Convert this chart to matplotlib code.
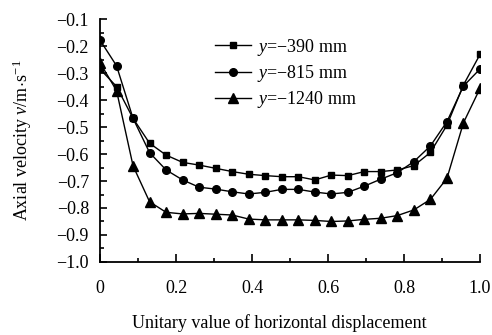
import numpy as np
import matplotlib
matplotlib.use('Agg')
import matplotlib.pyplot as plt
from matplotlib.ticker import MultipleLocator

plt.rcParams['font.family'] = ['Liberation Serif', 'DejaVu Serif']
plt.rcParams['mathtext.fontset'] = 'custom'
plt.rcParams['mathtext.rm'] = 'Liberation Serif'
plt.rcParams['mathtext.it'] = 'Liberation Serif:italic'
plt.rcParams['axes.unicode_minus'] = True

# 24 measuring points across the width
x = np.arange(24) / 23

v_390 = [-0.285, -0.35, -0.468, -0.56, -0.604, -0.631, -0.641, -0.653, -0.665, -0.675,
         -0.68, -0.684, -0.684, -0.696, -0.678, -0.68, -0.665, -0.665, -0.659, -0.643,
         -0.594, -0.493, -0.344, -0.231]
v_815 = [-0.178, -0.273, -0.468, -0.595, -0.659, -0.696, -0.723, -0.73, -0.74, -0.748,
         -0.742, -0.731, -0.731, -0.741, -0.748, -0.742, -0.719, -0.693, -0.669, -0.628,
         -0.57, -0.48, -0.348, -0.285]
v_1240 = [-0.262, -0.365, -0.644, -0.777, -0.816, -0.822, -0.82, -0.823, -0.826, -0.841,
          -0.844, -0.844, -0.844, -0.846, -0.85, -0.848, -0.842, -0.838, -0.828, -0.807,
          -0.768, -0.69, -0.484, -0.357]

labels = ['$y$=\u2212390 mm', '$y$=\u2212815 mm', '$y$=\u22121240 mm']
xticks = [0, 0.2, 0.4, 0.6, 0.8, 1.0]
xticklabels = ['0', '0.2', '0.4', '0.6', '0.8', '1.0']
yticks = [-1.0, -0.9, -0.8, -0.7, -0.6, -0.5, -0.4, -0.3, -0.2, -0.1]

fig = plt.figure(figsize=(4.92, 3.35), dpi=100)
ax = fig.add_axes([0.2033, 0.218, 0.7723, 0.725])

ax.plot(x, v_390, color='black', lw=1, marker='s', ms=5, label=labels[0])
ax.plot(x, v_815, color='black', lw=1, marker='o', ms=5.5, label=labels[1])
ax.plot(x, v_1240, color='black', lw=1, marker='^', ms=6.5, label=labels[2])

ax.set_xlim(0, 1.0)
ax.set_ylim(-1.0, -0.1)
ax.xaxis.set_minor_locator(MultipleLocator(0.1))
ax.yaxis.set_minor_locator(MultipleLocator(0.05))
ax.set_xticks(xticks)
ax.set_xticklabels(xticklabels)
ax.set_yticks(yticks)
ax.set_yticklabels(['\u2212%.1f' % abs(t) for t in yticks])

for s in ['top', 'right']:
    ax.spines[s].set_visible(False)
for s in ['left', 'bottom']:
    ax.spines[s].set_linewidth(1.3)

ax.tick_params(axis='x', which='major', direction='in', length=5.5, width=1.2, pad=13, labelsize=13)
ax.tick_params(axis='y', which='major', direction='in', length=5, width=1.2, pad=8, labelsize=13)
ax.tick_params(which='minor', direction='in', length=3, width=1.2)

ax.set_xlabel('Unitary value of horizontal displacement', fontsize=13)
ax.xaxis.set_label_coords(0.471, -0.215)
ax.set_ylabel('Axial velocity $v$/m$\\!\\cdot\\!$s$^{-1}$', fontsize=13, labelpad=16)

ax.legend(loc='upper left', bbox_to_anchor=(0.26, 0.995), frameon=False, fontsize=13,
          handlelength=2.0, handletextpad=0.3, labelspacing=0.3)

fig.savefig('out.png', dpi=100)
